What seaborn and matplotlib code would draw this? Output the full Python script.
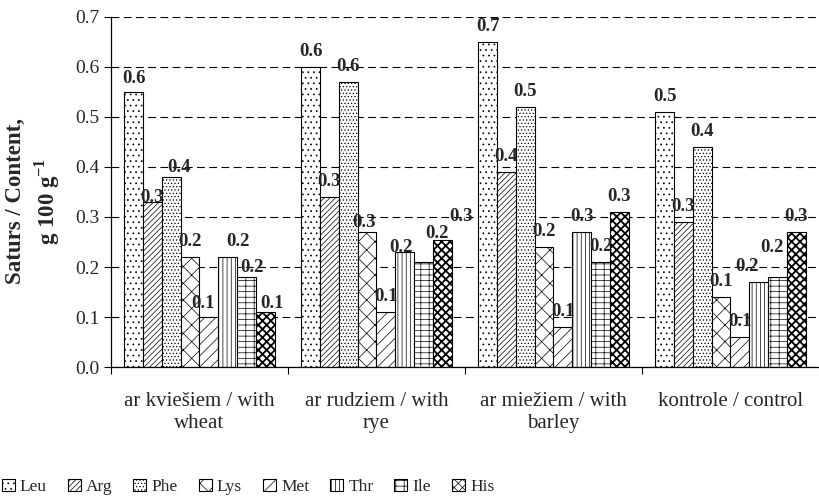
import numpy as np
import pandas as pd
import matplotlib
matplotlib.use("Agg")
import matplotlib.pyplot as plt
import seaborn as sns

# data
groups = ["ar kviešiem / with\nwheat", "ar rudziem / with\nrye",
          "ar miežiem / with\nbarley", "kontrole / control"]
amino = ["Leu", "Arg", "Phe", "Lys", "Met", "Thr", "Ile", "His"]
wheat = [0.55, 0.33, 0.38, 0.22, 0.10, 0.22, 0.18, 0.11]
rye = [0.60, 0.34, 0.57, 0.27, 0.11, 0.23, 0.21, 0.253]
barley = [0.65, 0.39, 0.52, 0.24, 0.08, 0.27, 0.21, 0.31]
control = [0.51, 0.29, 0.44, 0.14, 0.06, 0.17, 0.18, 0.27]
yticks = [0.0, 0.1, 0.2, 0.3, 0.4, 0.5, 0.6, 0.7]

hatches = ["...", "//////", ".....", "xx", "///", "||||", "---||", "xxxx"]

# hand nudges of some value labels (dx, dy in px), as they sit in the original
label_nudge = {
    (0, "Leu"): (0, -2), (0, "Arg"): (0, -11), (0, "Phe"): (8, -6),
    (0, "Met"): (-6, -2), (0, "Thr"): (10, 0), (0, "Ile"): (5, -6),
    (0, "His"): (7, -7),
    (1, "Lys"): (-3, -6), (1, "Thr"): (-4, -11), (1, "Ile"): (13, 13),
    (1, "His"): (19, 9),
    (3, "Thr"): (-12, 0), (3, "Ile"): (-6, 14),
}

rows = []
for g, vals in zip(groups, [wheat, rye, barley, control]):
    for a, v in zip(amino, vals):
        rows.append({"group": g, "amino": a, "value": v})
df = pd.DataFrame(rows)

sns.set_theme(style="white")
plt.rcParams["font.family"] = ["Liberation Serif", "DejaVu Serif"]
plt.rcParams["mathtext.fontset"] = "custom"
plt.rcParams["mathtext.rm"] = "Liberation Serif"
plt.rcParams["mathtext.bf"] = "Liberation Serif:bold"
plt.rcParams["hatch.linewidth"] = 0.5
plt.rcParams["hatch.color"] = "black"

fig = plt.figure(figsize=(8.19, 4.99), dpi=100)
ax = fig.add_axes([0.1355, 0.2645, 0.8645, 0.7015])

sns.barplot(data=df, x="group", y="value", hue="amino", order=groups,
            hue_order=amino, width=0.85, gap=0, ax=ax, legend=True,
            palette=["white"] * 8, edgecolor="black",
            linewidth=0.8, saturation=1)


def style_patch(p, h):
    p.set_hatch(h)
    p.set_edgecolor("black")
    if h == "xxxx" and hasattr(p, "set_hatch_linewidth"):
        p.set_hatch_linewidth(1.3)


pad = 5
for cont, h, a in zip(ax.containers, hatches, amino):
    for bar in cont:
        style_patch(bar, h)
    texts = ax.bar_label(cont, labels=[f"{b.get_height():.1f}" for b in cont],
                         padding=pad, fontsize=13.5, fontweight="bold")
    for gi, t in enumerate(texts):
        dx, dy = label_nudge.get((gi, a), (0, 0))
        t.xyann = (dx * 0.72, pad + dy * 0.72)

ax.set_ylim(0, 0.7)
ax.set_yticks(yticks)
ax.set_yticklabels([f"{t:.1f}" for t in yticks], fontsize=14)
ax.set_xlim(-0.5, 3.5)
ax.set_xticks(range(len(groups)))
ax.set_xticklabels(groups, fontsize=15, linespacing=1.2)
ax.set_xticks([-0.5, 0.5, 1.5, 2.5], minor=True)
ax.tick_params(axis="x", which="major", length=0, pad=18)
ax.tick_params(axis="x", which="minor", length=5, width=0.8, direction="out",
               bottom=True, color="black")
ax.tick_params(axis="y", length=5, width=0.8, direction="out", left=True,
               color="black", pad=3)
ax.set_axisbelow(True)
ax.yaxis.grid(True, color="black", linestyle=(0, (7, 4)), linewidth=0.8)
ax.xaxis.grid(False)

for s in ["top", "right"]:
    ax.spines[s].set_visible(False)
for s in ["left", "bottom"]:
    ax.spines[s].set_color("black")
    ax.spines[s].set_linewidth(0.9)

ax.set_xlabel("")
ax.set_ylabel("Saturs / Content,\ng 100 g$^{\\mathbf{-1}}$", fontsize=16.5,
              fontweight="bold", linespacing=1.3)
ax.yaxis.set_label_coords(-0.069, 0.474)

handles, labels = ax.get_legend_handles_labels()
ax.get_legend().remove()
for hd, h in zip(handles, hatches):
    style_patch(hd, h)
fig.legend(handles, labels, loc="lower left", bbox_to_anchor=(0.002, 0.008),
           ncol=8, frameon=False, fontsize=12.5, handlelength=0.75,
           handleheight=0.75, handletextpad=0.3, columnspacing=1.2,
           borderaxespad=0, borderpad=0)

fig.savefig("out.png", dpi=100)
